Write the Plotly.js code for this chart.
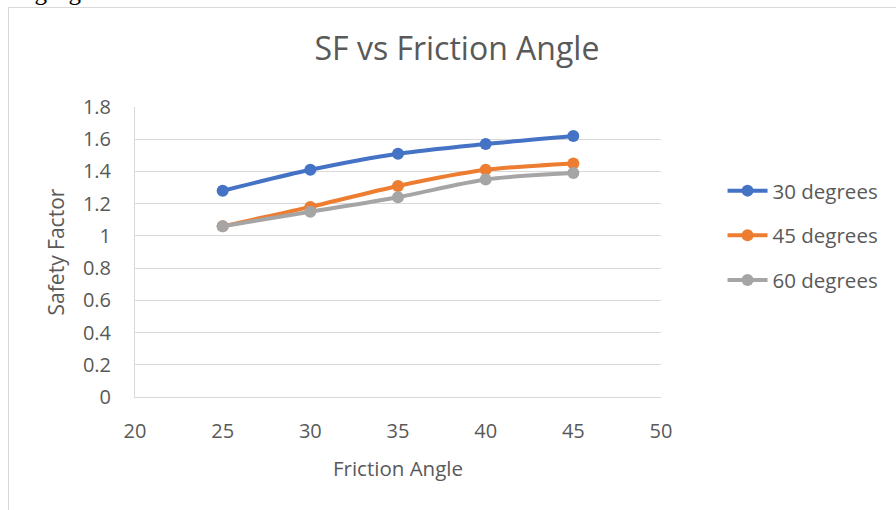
<!DOCTYPE html>
<html>
<head>
<meta charset="utf-8">
<script src="https://cdn.plot.ly/plotly-3.0.1.min.js"></script>
<style>
  html, body { margin: 0; padding: 0; background: #fff; overflow: hidden; }
  #wrap { position: relative; width: 896px; height: 510px; overflow: hidden; }
  #frame { position: absolute; left: 8px; top: 7px; width: 1000px; height: 1000px; border: 1px solid #D9D9D9; box-sizing: border-box; }
  #chart { position: absolute; left: 0; top: 0; width: 896px; height: 510px; }
  #caption { position: absolute; left: -3px; top: -22px; font-family: "Liberation Serif", serif; font-size: 25px; color: #000; white-space: nowrap; }
</style>
</head>
<body>
<div id="wrap">
  <div id="caption">wing figure:</div>
  <div id="frame"></div>
  <div id="chart"></div>
</div>
<script>
const frictionAngle = [25, 30, 35, 40, 45];
const sf30 = [1.28, 1.41, 1.51, 1.57, 1.62];
const sf45 = [1.06, 1.18, 1.31, 1.41, 1.45];
const sf60 = [1.06, 1.15, 1.24, 1.35, 1.39];
const seriesNames = ["30 degrees", "45 degrees", "60 degrees"];
const colors = ["#4472C4", "#ED7D31", "#A5A5A5"];

const FONT = "'Open Sans', sans-serif";
const TXT = "#595959";

function mk(y, i) {
  return {
    x: frictionAngle, y: y, name: seriesNames[i],
    type: "scatter", mode: "lines+markers",
    line: { color: colors[i], width: 4, shape: "spline", smoothing: 0.8 },
    marker: { color: colors[i], size: 12 },
    legendgroup: "g" + i
  };
}
const data = [mk(sf30, 0), mk(sf45, 1), mk(sf60, 2)];

const layout = {
  width: 896, height: 510,
  paper_bgcolor: "rgba(0,0,0,0)", plot_bgcolor: "rgba(0,0,0,0)",
  margin: { l: 135, r: 235, t: 107, b: 113, autoexpand: false },
  font: { family: FONT, color: TXT, size: 20 },
  title: { text: "SF vs Friction Angle", font: { family: FONT, size: 32, color: TXT },
           x: 0.51, xanchor: "center", y: 1 - 49 / 510, yanchor: "middle" },
  xaxis: {
    range: [20, 50], dtick: 5, tick0: 20, showgrid: false, zeroline: false,
    showline: true, linecolor: "#D9D9D9", linewidth: 1,
    ticks: "", ticklabelstandoff: 16,
    tickfont: { family: FONT, size: 20, color: TXT },
    title: { text: "Friction Angle", font: { family: FONT, size: 20.5, color: TXT }, standoff: 18 }
  },
  yaxis: {
    range: [0, 1.8], dtick: 0.2, tick0: 0, showgrid: true, gridcolor: "#D9D9D9", gridwidth: 1,
    zeroline: false, showline: true, linecolor: "#D9D9D9", linewidth: 1,
    ticks: "", ticklabelstandoff: 19,
    tickfont: { family: FONT, size: 20, color: TXT },
    title: { text: "Safety Factor", font: { family: FONT, size: 21, color: TXT }, standoff: 12 }
  },
  legend: {
    x: 1.117, xanchor: "left", y: 0.78, yanchor: "top",
    font: { family: FONT, size: 20.5, color: TXT },
    traceorder: "grouped", tracegroupgap: 15, itemwidth: 40,
    bgcolor: "rgba(0,0,0,0)"
  },
  showlegend: true
};

Plotly.newPlot("chart", data, layout, { staticPlot: true, displayModeBar: false });
</script>
</body>
</html>
